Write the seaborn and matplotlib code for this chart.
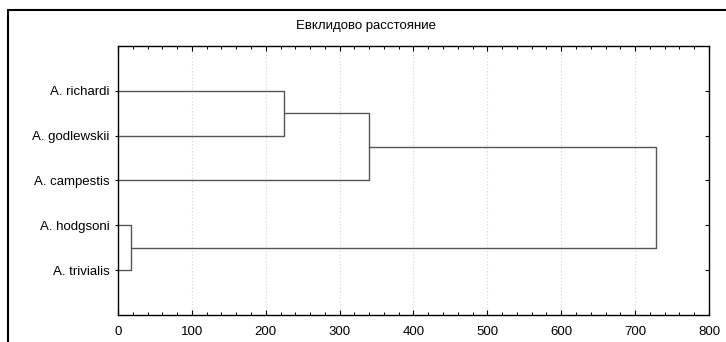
import pandas as pd
import matplotlib.pyplot as plt
import seaborn as sns
from matplotlib.lines import Line2D
from matplotlib.ticker import MultipleLocator

# Leaves (top to bottom) and merge heights
leaves = ['A. richardi', 'A. godlewskii', 'A. campestis', 'A. hodgsoni', 'A. trivialis']
# each merge: left member, right member, linkage distance
merge_left = ['A. richardi', 'c1', 'A. hodgsoni', 'c2']
merge_right = ['A. godlewskii', 'A. campestis', 'A. trivialis', 'c3']
merge_dist = [225, 340, 17, 728]
merge_name = ['c1', 'c2', 'c3', 'c4']
title = 'Евклидово расстояние'

sns.set_style('white')
plt.rcParams['font.family'] = ['Liberation Sans', 'DejaVu Sans']
plt.rcParams['text.color'] = 'black'

# build the U-shaped links of the tree
pos = {name: i + 1 for i, name in enumerate(leaves)}
height = {name: 0 for name in leaves}
rows = []
for k, (a, b, d, n) in enumerate(zip(merge_left, merge_right, merge_dist, merge_name)):
    ya, yb = pos[a], pos[b]
    for step, (x, y) in enumerate([(height[a], ya), (d, ya), (d, yb), (height[b], yb)]):
        rows.append({'link': k, 'step': step, 'dist': x, 'leaf': y})
    pos[n] = (ya + yb) / 2
    height[n] = d
links = pd.DataFrame(rows)

fig = plt.figure(figsize=(7.26, 3.42), dpi=100)
ax = fig.add_axes([0.1625, 0.079, 0.8141, 0.7866])

for x in range(100, 800, 100):
    ax.axvline(x, color='#d2d2d2', lw=0.8, ls=(0, (1, 2)), zorder=0)

sns.lineplot(data=links, x='dist', y='leaf', units='link', estimator=None,
             sort=False, color='#555555', lw=1.0, ax=ax, legend=False)

ax.set_xlim(0, 800)
ax.set_ylim(6, 0)
ax.set_xlabel('')
ax.set_ylabel('')
ax.xaxis.set_major_locator(MultipleLocator(100))
ax.xaxis.set_minor_locator(MultipleLocator(20))
ax.set_yticks(range(1, len(leaves) + 1))
ax.set_yticklabels(leaves)
ax.tick_params(axis='x', which='major', direction='in', top=True, bottom=True,
               length=3.5, width=0.8, labelsize=9.5, pad=8, colors='black')
ax.tick_params(axis='x', which='minor', direction='in', top=True, bottom=True,
               length=2, width=0.7, colors='black')
ax.tick_params(axis='y', direction='out', length=2, width=0.8, labelsize=9.5, pad=4,
               colors='black')
for s in ax.spines.values():
    s.set_color('black')
    s.set_linewidth(1.0)

ax2 = ax.twinx()
ax2.set_ylim(6, 0)
ax2.set_yticks(range(1, len(leaves) + 1))
ax2.set_yticklabels([])
ax2.tick_params(axis='y', direction='in', length=3, width=0.8, colors='black')
for s in ax2.spines.values():
    s.set_visible(False)

fig.text(0.504, 0.924, title, ha='center', va='center', fontsize=9.5, color='black')

# outer frame of the window, cut by the image edge
fy = 1 - 10 / 342
fx = 8 / 726
fig.add_artist(Line2D([fx, 1.0], [fy, fy], color='black', lw=1.5, transform=fig.transFigure))
fig.add_artist(Line2D([fx, fx], [0.0, fy], color='black', lw=1.5, transform=fig.transFigure))

fig.savefig('out.png', dpi=100)
